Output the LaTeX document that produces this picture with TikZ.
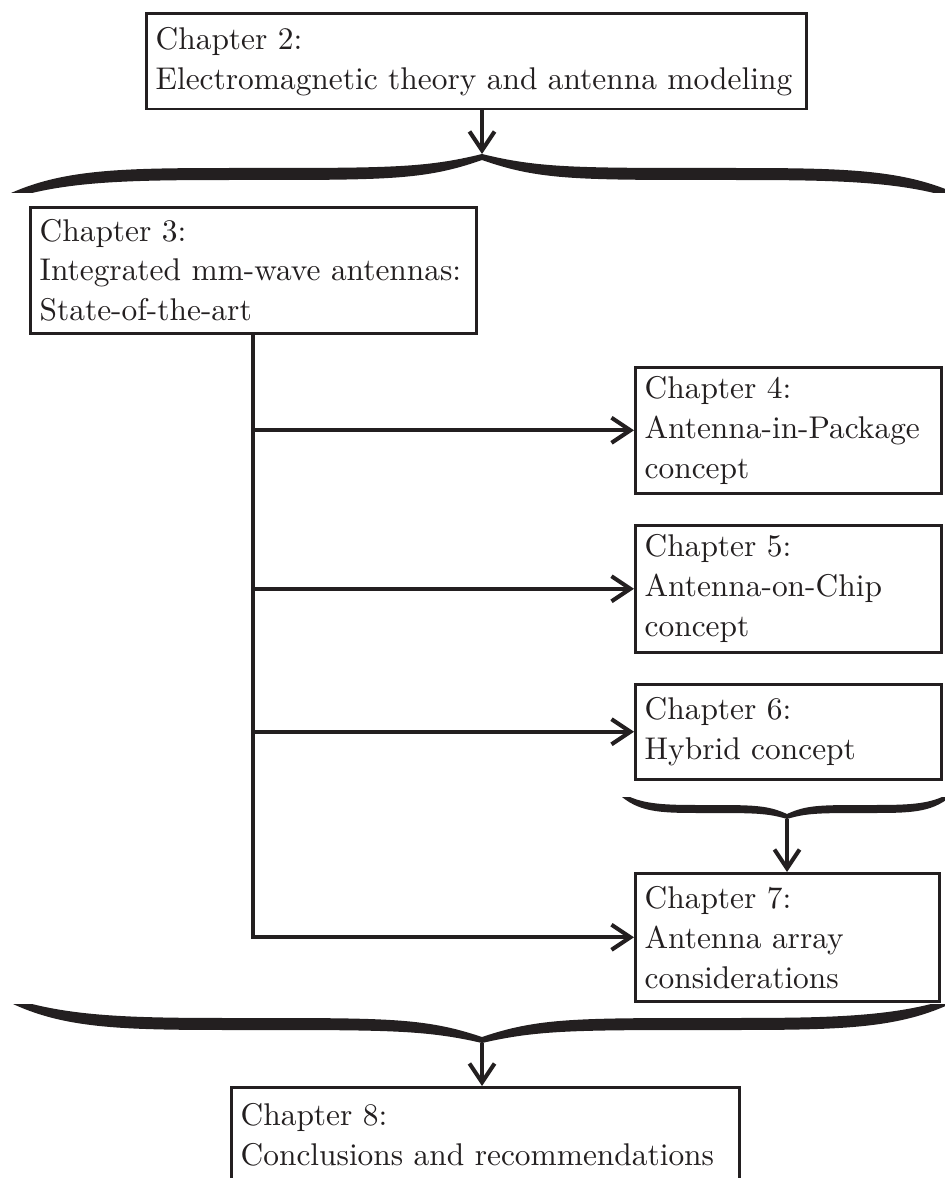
\documentclass[tikz,border=0pt]{standalone}
\usepackage{fontspec}
\usetikzlibrary{arrows.meta,calc}
\definecolor{ink}{RGB}{35,31,32}
% #1 x0, #2 x1, #3 tip x, #4 end y, #5 arm y, #6 tip y, #7 half thickness (signed), #8 end width, #9 tip thickness (signed)
\newcommand\mybrace[9]{%
  \fill[ink]
    (#1,#4) .. controls ({#1+0.12*(#3-(#1))},{#5-(#7)}) and ({#1+0.25*(#3-(#1))},{#5-(#7)}) .. ({#1+0.5*(#3-(#1))},{#5-(#7)})
    .. controls ({#1+0.8*(#3-(#1))},{#5-(#7)}) and ({#3-0.12*(#3-(#1))},{#5-(#7)}) .. (#3,#6)
    .. controls ({#3+0.12*(#2-(#3))},{#5-(#7)}) and ({#2-0.8*(#2-(#3))},{#5-(#7)}) .. ({#2-0.5*(#2-(#3))},{#5-(#7)})
    .. controls ({#2-0.25*(#2-(#3))},{#5-(#7)}) and ({#2-0.12*(#2-(#3))},{#5-(#7)}) .. (#2,#4)
    -- ({#2-(#8)},#4)
    .. controls ({#2-0.16*(#2-(#3))},{#5+(#7)}) and ({#2-0.3*(#2-(#3))},{#5+(#7)}) .. ({#2-0.5*(#2-(#3))},{#5+(#7)})
    .. controls ({#2-0.8*(#2-(#3))},{#5+(#7)}) and ({#3+0.12*(#2-(#3))},{#5+(#7)}) .. (#3,{#6+(#9)})
    .. controls ({#3-0.12*(#3-(#1))},{#5+(#7)}) and ({#1+0.8*(#3-(#1))},{#5+(#7)}) .. ({#1+0.5*(#3-(#1))},{#5+(#7)})
    .. controls ({#1+0.3*(#3-(#1))},{#5+(#7)}) and ({#1+0.16*(#3-(#1))},{#5+(#7)}) .. ({#1+(#8)},#4)
    -- cycle;}
\begin{document}
\begin{tikzpicture}[x=0.31847pt,y=-0.31847pt,
  chbox/.style={draw=ink, line width=0.8pt, anchor=north west, inner xsep=3pt, inner ysep=0pt,
    align=left, text=ink, font=\fontsize{10pt}{12.7pt}\selectfont},
  conn/.style={draw=ink, line width=1.3pt},
  arr/.style={conn, -{Straight Barb[length=6pt,width=8pt]}}]
\useasboundingbox (0,0) rectangle (944,1178);

\node[chbox, text width=204.19pt, minimum height=30.57pt] (b2) at (145,12)
  {Chapter 2:\\\mbox{Electromagnetic theory and antenna modeling}};
\node[chbox, text width=136.04pt, minimum height=40.13pt] (b3) at (29,206)
  {Chapter 3:\\\mbox{Integrated mm-wave antennas:}\\State-of-the-art};
\node[chbox, text width=91.45pt, minimum height=40.13pt] (b4) at (634,366)
  {Chapter 4:\\\mbox{Antenna-in-Package}\\concept};
\node[chbox, text width=91.45pt, minimum height=40.45pt] (b5) at (634,524)
  {Chapter 5:\\Antenna-on-Chip\\concept};
\node[chbox, text width=91.45pt, minimum height=30.25pt] (b6) at (634,683)
  {Chapter 6:\\Hybrid concept};
\node[chbox, text width=90.81pt, minimum height=40.76pt] (b7) at (634,872)
  {Chapter 7:\\Antenna array\\considerations};
\node[chbox, text width=155.78pt, minimum height=30.25pt] (b8) at (230,1086)
  {Chapter 8:\\\mbox{Conclusions and recommendations}};

% braces
\mybrace{11}{955}{482}{193}{174}{154}{6}{21}{6}
\mybrace{622}{950}{787}{797}{809}{819}{-4}{8}{-5}
\mybrace{13}{950}{482}{1004}{1024}{1043}{-6}{19}{-6}
\coordinate (t1) at (482,154);
\coordinate (t2) at (787,819);
\coordinate (t3) at (482,1043);

% connectors
\draw[arr] (t1 |- b2.south) -- (t1);
\draw[arr] (b3.south) |- (b7.west);
\draw[arr] (b3.south |- b4.west) -- (b4.west);
\draw[arr] (b3.south |- b5.west) -- (b5.west);
\draw[arr] (b3.south |- b6.west) -- (b6.west);
\draw[arr] (t2) -- (t2 |- b7.north);
\draw[arr] (t3) -- (t3 |- b8.north);
\end{tikzpicture}
\end{document}
